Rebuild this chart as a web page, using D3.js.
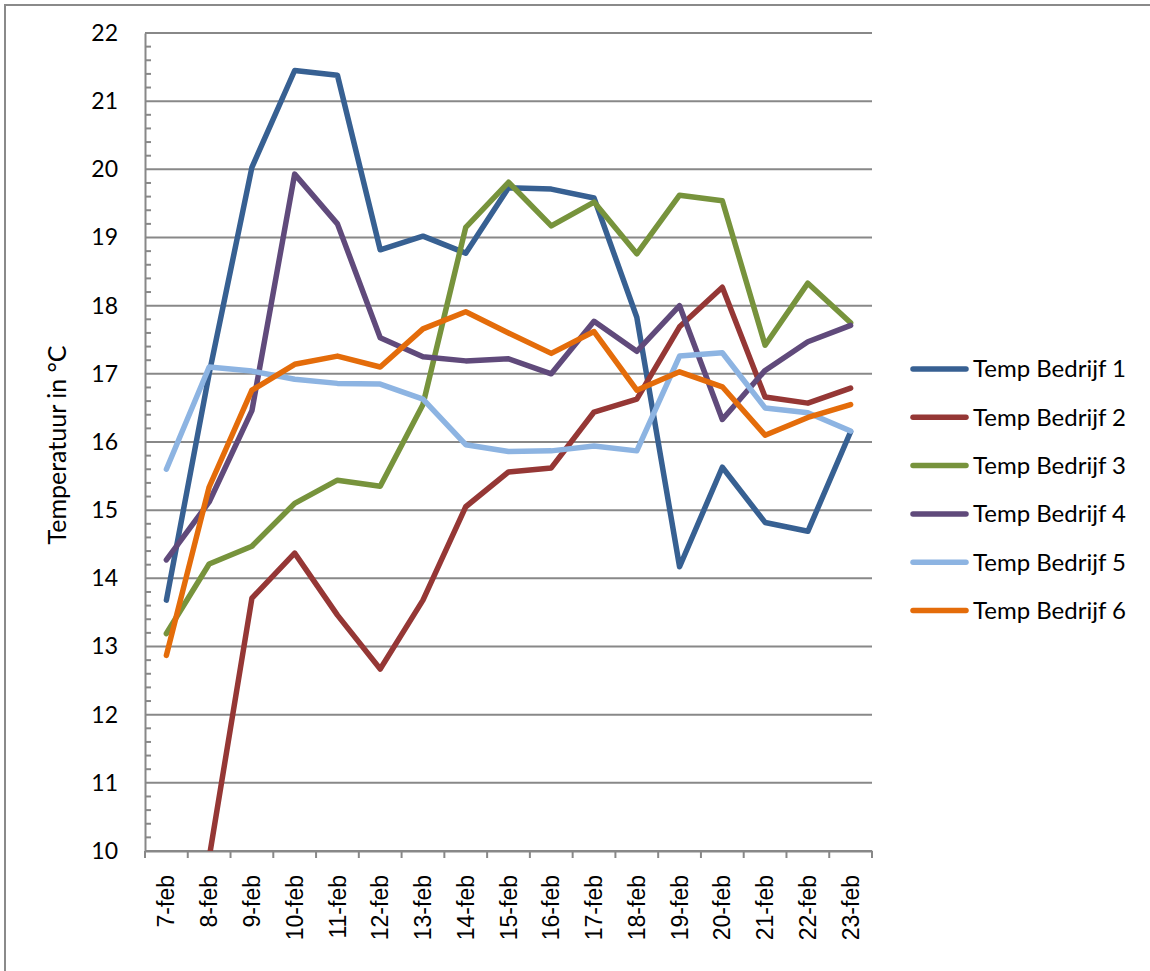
<!DOCTYPE html>
<html>
<head>
<meta charset="utf-8">
<script src="https://cdn.jsdelivr.net/npm/d3@7"></script>
<style>
  html, body { margin: 0; padding: 0; background: #fff; }
  svg { display: block; }
</style>
</head>
<body>
<script>
// Daily average temperature per farm, 7-23 February
const days = ["7-feb","8-feb","9-feb","10-feb","11-feb","12-feb","13-feb","14-feb","15-feb",
              "16-feb","17-feb","18-feb","19-feb","20-feb","21-feb","22-feb","23-feb"];

const bedrijf1 = [13.68,17.0,20.03,21.45,21.38,18.82,19.02,18.77,19.73,19.71,19.58,17.83,14.17,15.63,14.82,14.69,16.15];
const bedrijf2 = [8.3,9.9,13.71,14.37,13.46,12.67,13.68,15.05,15.56,15.62,16.44,16.63,17.69,18.27,16.66,16.57,16.79];
const bedrijf3 = [13.19,14.21,14.47,15.1,15.44,15.35,16.55,19.15,19.81,19.17,19.52,18.76,19.62,19.54,17.42,18.33,17.75];
const bedrijf4 = [14.27,15.12,16.46,19.93,19.2,17.53,17.25,17.19,17.22,17.0,17.77,17.33,18.0,16.33,17.05,17.47,17.71];
const bedrijf5 = [15.6,17.1,17.04,16.92,16.86,16.85,16.63,15.96,15.86,15.87,15.94,15.87,17.26,17.31,16.5,16.43,16.16];
const bedrijf6 = [12.87,15.34,16.76,17.14,17.26,17.1,17.66,17.91,17.6,17.3,17.62,16.76,17.03,16.81,16.1,16.36,16.55];

const seriesNames = ["Temp Bedrijf 1","Temp Bedrijf 2","Temp Bedrijf 3","Temp Bedrijf 4","Temp Bedrijf 5","Temp Bedrijf 6"];
const seriesColors = ["#376092","#953735","#77933C","#604A7B","#8DB4E2","#E46C0A"];
const yTicks = [10,11,12,13,14,15,16,17,18,19,20,21,22];

const series = [bedrijf1,bedrijf2,bedrijf3,bedrijf4,bedrijf5,bedrijf6].map((vals, i) => ({
  name: seriesNames[i], color: seriesColors[i], values: vals
}));

const W = 1150, H = 971;
const plot = { left: 145, right: 872, top: 33, bottom: 851 };
const gridColor = "#888888";
const uiFont = "Lato, 'Open Sans', sans-serif";

const svg = d3.select("body").append("svg").attr("width", W).attr("height", H);

// outer chart frame
svg.append("path")
  .attr("d", `M5,${H + 2} L5,5 L${W + 2},5`)
  .attr("fill", "none").attr("stroke", "#8a8a8a").attr("stroke-width", 2);

const x = d3.scaleBand().domain(days).range([plot.left, plot.right]);
const y = d3.scaleLinear().domain([10, 22]).range([plot.bottom, plot.top]);

// horizontal gridlines
svg.append("g").selectAll("line").data(yTicks).join("line")
  .attr("x1", plot.left).attr("x2", plot.right)
  .attr("y1", d => y(d)).attr("y2", d => y(d))
  .attr("stroke", gridColor).attr("stroke-width", 2);

// minor ticks on the value axis
const minor = d3.range(10, 22.001, 0.2).filter(v => Math.abs(v - Math.round(v)) > 1e-6);
svg.append("g").selectAll("line").data(minor).join("line")
  .attr("x1", plot.left).attr("x2", plot.left + 6)
  .attr("y1", d => y(d)).attr("y2", d => y(d))
  .attr("stroke", gridColor).attr("stroke-width", 2);

// value axis
const yAxis = svg.append("g")
  .attr("transform", `translate(${plot.left},0)`)
  .call(d3.axisLeft(y).tickValues(yTicks).tickFormat(d3.format("d")).tickSize(0).tickPadding(27));
yAxis.select(".domain").attr("stroke", gridColor).attr("stroke-width", 2);
yAxis.selectAll("text")
  .attr("font-family", uiFont)
  .attr("font-size", 23).attr("fill", "#000");

// category axis
const xAxis = svg.append("g")
  .attr("transform", `translate(0,${plot.bottom})`)
  .call(d3.axisBottom(x).tickSize(0).tickPadding(0));
xAxis.select(".domain").attr("stroke", gridColor).attr("stroke-width", 2);
xAxis.selectAll("text")
  .attr("font-family", "'Liberation Sans', Arial, sans-serif")
  .attr("font-size", 23).attr("fill", "#000")
  .attr("text-anchor", "end")
  .attr("dy", "0.35em")
  .attr("x", 0).attr("y", 0)
  .attr("transform", "rotate(-90) translate(-24,0)");
// tick marks at category boundaries
const bounds = days.map(d => x(d)).concat([plot.right]);
svg.append("g").selectAll("line").data(bounds).join("line")
  .attr("x1", d => d).attr("x2", d => d)
  .attr("y1", plot.bottom).attr("y2", plot.bottom + 7)
  .attr("stroke", gridColor).attr("stroke-width", 2);

// y axis title
svg.append("text")
  .attr("transform", `translate(66,445) rotate(-90)`)
  .attr("text-anchor", "middle")
  .attr("font-family", uiFont)
  .attr("font-size", 25).attr("fill", "#000")
  .text("Temperatuur in °C");

// lines, clipped to the plot area
svg.append("clipPath").attr("id", "plotclip")
  .append("rect")
  .attr("x", plot.left).attr("y", plot.top - 10)
  .attr("width", plot.right - plot.left + 10).attr("height", plot.bottom - plot.top + 10);

const line = d3.line()
  .x((d, i) => x(days[i]) + x.bandwidth() / 2)
  .y(d => y(d));

svg.append("g").attr("clip-path", "url(#plotclip)")
  .selectAll("path").data(series).join("path")
  .attr("d", s => line(s.values))
  .attr("fill", "none")
  .attr("stroke", s => s.color)
  .attr("stroke-width", 5.5)
  .attr("stroke-linejoin", "round")
  .attr("stroke-linecap", "round");

// legend
const legend = svg.append("g").attr("transform", "translate(913,369)");
const item = legend.selectAll("g").data(series).join("g")
  .attr("transform", (d, i) => `translate(0,${i * 48.3})`);
item.append("line")
  .attr("x1", 0).attr("x2", 53).attr("y1", 0).attr("y2", 0)
  .attr("stroke", d => d.color).attr("stroke-width", 5.5)
  .attr("stroke-linecap", "round");
item.append("text")
  .attr("x", 60).attr("y", 0).attr("dy", "0.35em")
  .attr("font-family", uiFont)
  .attr("font-size", 24).attr("fill", "#000")
  .text(d => d.name);
</script>
</body>
</html>
